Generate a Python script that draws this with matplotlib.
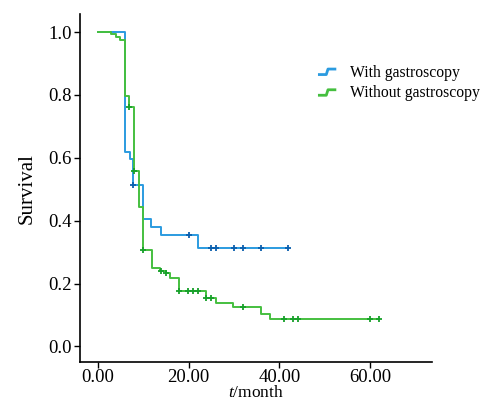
import numpy as np
import matplotlib
matplotlib.use("Agg")
import matplotlib.pyplot as plt
from matplotlib.legend_handler import HandlerBase
from matplotlib.lines import Line2D

plt.rcParams['font.family'] = ['Liberation Serif', 'DejaVu Serif']
plt.rcParams['mathtext.fontset'] = 'custom'
plt.rcParams['mathtext.it'] = 'Liberation Serif:italic'
plt.rcParams['mathtext.rm'] = 'Liberation Serif'

# With gastroscopy: event times and survival after each step
with_t = [0, 5.9, 7.0, 7.8, 9.9, 11.8, 13.9, 22.0]
with_s = [1.0, 0.619, 0.596, 0.515, 0.406, 0.380, 0.353, 0.314]
with_end = 42.0
with_cens = [7.8, 20.0, 24.9, 26.0, 30.0, 32.0, 36.0, 42.0]

# Without gastroscopy
wo_t = [0, 2.8, 3.9, 4.9, 5.9, 6.8, 7.9, 9.0, 9.9, 12.0, 13.6, 14.9,
        15.9, 17.8, 23.8, 26.0, 29.9, 35.9, 38.0]
wo_s = [1.0, 0.993, 0.985, 0.975, 0.796, 0.761, 0.559, 0.444, 0.308, 0.248,
        0.240, 0.232, 0.218, 0.176, 0.155, 0.139, 0.124, 0.104, 0.088]
wo_end = 62.0
wo_cens = [6.8, 7.9, 9.9, 13.8, 14.9, 17.8, 19.8, 20.9, 22.0, 23.8, 24.9,
           31.9, 41.1, 43.0, 44.1, 60.0, 62.0]

blue, blue_dark = '#2b9be0', '#0b5fae'
green, green_dark = '#45bf3f', '#17a02a'


def surv_at(times, surv, x):
    idx = np.searchsorted(times, x, side='right') - 1
    return np.array(surv)[idx]


class StepHandler(HandlerBase):
    def create_artists(self, legend, orig, xd, yd, w, h, fontsize, trans):
        xs = [xd + 0.05 * w, xd + 0.45 * w, xd + 0.55 * w, xd + 0.95 * w]
        ys = [yd + 0.2 * h, yd + 0.2 * h, yd + 0.7 * h, yd + 0.7 * h]
        ln = Line2D(xs, ys, color=orig.get_color(), lw=2, transform=trans)
        return [ln]


fig = plt.figure(figsize=(4.87, 4.05), dpi=100)
ax = fig.add_axes([0.164, 0.106, 0.723, 0.859])

for t, s, end, cens, c, cd, lab in [
        (with_t, with_s, with_end, with_cens, blue, blue_dark, 'With gastroscopy'),
        (wo_t, wo_s, wo_end, wo_cens, green, green_dark, 'Without gastroscopy')]:
    xx = list(t) + [end]
    yy = list(s) + [s[-1]]
    ax.step(xx, yy, where='post', color=c, lw=1.4, label=lab)
    ax.plot(cens, surv_at(t, s, cens), '+', color=cd, ms=5, mew=1.3)

ax.set_xlim(-4, 73.7)
ax.set_ylim(-0.05, 1.057)
ax.set_xticks([0, 20, 40, 60])
ax.set_xticklabels(['0.00', '20.00', '40.00', '60.00'])
ax.set_yticks([0, 0.2, 0.4, 0.6, 0.8, 1.0])
ax.set_yticklabels(['0.0', '0.2', '0.4', '0.6', '0.8', '1.0'])
ax.tick_params(labelsize=13.5, length=4, width=1, direction='out', pad=2)
ax.tick_params(axis='x', pad=1)
for sp in ['top', 'right']:
    ax.spines[sp].set_visible(False)
for sp in ['left', 'bottom']:
    ax.spines[sp].set_linewidth(1.2)
ax.set_ylabel('Survival', fontsize=15, labelpad=8)
ax.set_xlabel('$t$/month', fontsize=12.5, labelpad=-1)

h, l = ax.get_legend_handles_labels()
ax.legend(h, l, handler_map={Line2D: StepHandler()}, loc='upper left',
          bbox_to_anchor=(0.625, 0.875), bbox_transform=fig.transFigure,
          frameon=False, fontsize=11.3, handlelength=1.1, handletextpad=0.9,
          labelspacing=0.3)

fig.savefig('out.png', dpi=100)
